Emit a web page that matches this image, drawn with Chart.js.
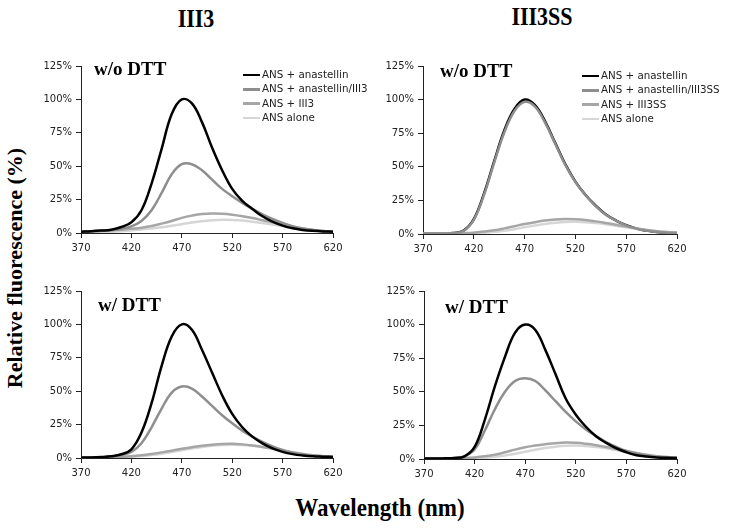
<!DOCTYPE html>
<html>
<head>
<meta charset="utf-8">
<script src="https://cdn.jsdelivr.net/npm/chart.js@4.4.0/dist/chart.umd.min.js"></script>
<style>
  body { margin: 0; background: #fff; }
  #page { position: relative; width: 730px; height: 528px; overflow: hidden; background: #fff; }
  canvas { position: absolute; }
  .big { position: absolute; font-family: "Liberation Serif", serif; font-weight: bold; font-size: 25px; color: #000; white-space: nowrap; line-height: 25px; }
  .side { position: absolute; font-family: "Liberation Serif", serif; font-weight: bold; font-size: 22px; color: #000; white-space: nowrap; line-height: 22px; }
  .tag { position: absolute; font-family: "Liberation Serif", serif; font-weight: bold; font-size: 19px; color: #000; white-space: nowrap; line-height: 19px; }
  .legend { position: absolute; font-family: "DejaVu Sans", Verdana, sans-serif; font-size: 10.3px; color: #222; white-space: nowrap; }
  .legend div { height: 14.3px; line-height: 14.3px; }
  .legend span.swatch { display: inline-block; width: 17px; height: 2.5px; vertical-align: middle; margin-right: 2px; }
</style>
</head>
<body>
<div id="page">
  <canvas id="c1"></canvas>
  <canvas id="c2"></canvas>
  <canvas id="c3"></canvas>
  <canvas id="c4"></canvas>

  <div class="big" style="left:196px; top:6px; transform:translateX(-50%) scaleX(0.88);">III3</div>
  <div class="big" style="left:542px; top:4px; transform:translateX(-50%) scaleX(0.88);">III3SS</div>
  <div class="big" style="left:380px; top:495px; transform:translateX(-50%) scaleX(0.92);">Wavelength (nm)</div>
  <div class="side" style="left:15px; top:268px; transform:translate(-50%,-50%) rotate(-90deg);">Relative fluorescence (%)</div>

  <div class="tag" style="left:94px; top:59px;">w/o DTT</div>
  <div class="tag" style="left:440px; top:61px;">w/o DTT</div>
  <div class="tag" style="left:98px; top:295px;">w/ DTT</div>
  <div class="tag" style="left:445px; top:297px;">w/ DTT</div>

  <div class="legend" id="leg1" style="left:243px; top:67px;"></div>
  <div class="legend" id="leg2" style="left:582px; top:68px;"></div>
</div>

<script>
// wavelength (nm) sampled every 10 nm
const wavelengths = [370, 380, 390, 400, 410, 420, 430, 440, 450, 460, 470, 480, 490,
                     500, 510, 520, 530, 540, 550, 560, 570, 580, 590, 600, 610, 620];
const yTicks = [0, 25, 50, 75, 100, 125];
const xTicks = [370, 420, 470, 520, 570, 620];

const labelsIII3 = ['ANS + anastellin', 'ANS + anastellin/III3', 'ANS + III3', 'ANS alone'];
const labelsIII3SS = ['ANS + anastellin', 'ANS + anastellin/III3SS', 'ANS + III3SS', 'ANS alone'];
const lineColors = ['#000000', '#8e8e8e', '#a6a6a6', '#d6d6d6'];

// III3, w/o DTT
const iii3NoDttAnastellin = [1, 1.3, 1.8, 2.5, 4.5, 8, 17, 37, 63, 89, 100, 97, 83, 64, 47, 33, 24, 18, 12.5, 8.5, 5.5, 3.5, 2.3, 1.6, 1.2, 1];
const iii3NoDttMix = [1, 1.2, 1.6, 2.2, 3.2, 5, 9, 17, 30, 44, 51.5, 51.5, 47, 40, 33, 27.5, 22.5, 18, 14, 10.5, 7.5, 5, 3.3, 2.2, 1.5, 1];
const iii3NoDttProtein = [1, 1.2, 1.5, 2, 2.5, 3.2, 4, 5.2, 7, 9, 11.3, 13, 14.2, 14.6, 14.4, 13.7, 12.6, 11.2, 9.6, 8, 6.3, 4.7, 3.3, 2.2, 1.5, 1.1];
const iii3NoDttAlone = [0.5, 0.6, 0.8, 1, 1.4, 2, 2.6, 3.4, 4.3, 5.4, 6.6, 7.8, 8.8, 9.5, 9.9, 9.8, 9.3, 8.5, 7.5, 6.4, 5.2, 4, 3, 2.1, 1.5, 1.1];

// III3SS, w/o DTT
const iii3ssNoDttAnastellin = [0.3, 0.3, 0.4, 0.7, 2.5, 11, 30, 54, 77, 93, 100, 96, 84, 68, 52, 39, 29, 21, 14.5, 10, 6.5, 4, 2.5, 1.5, 1, 0.7];
const iii3ssNoDttMix = [0.3, 0.3, 0.4, 0.7, 2.4, 10.5, 29, 53, 75.5, 91.5, 98.3, 95, 83, 67.3, 51.5, 38.7, 28.8, 20.8, 14.4, 9.9, 6.4, 4, 2.5, 1.5, 1, 0.7];
const iii3ssNoDttProtein = [0.3, 0.3, 0.4, 0.5, 0.7, 1, 1.8, 2.8, 4.2, 5.8, 7.4, 8.8, 10, 10.8, 11.2, 11, 10.4, 9.4, 8.2, 6.9, 5.5, 4.2, 3, 2.1, 1.4, 1];
const iii3ssNoDttAlone = [0.2, 0.2, 0.3, 0.4, 0.5, 0.7, 1, 1.6, 2.5, 3.6, 5, 6.3, 7.5, 8.4, 9, 9.1, 8.8, 8.1, 7.2, 6.1, 5, 3.9, 2.9, 2, 1.4, 1];

// III3, w/ DTT
const iii3DttAnastellin = [0.3, 0.4, 0.7, 1.3, 2.8, 6.5, 19, 41, 69, 91, 100, 96, 81, 64, 47, 33, 23, 16, 11, 7.2, 4.6, 2.9, 1.9, 1.3, 1, 0.7];
const iii3DttMix = [0.3, 0.4, 0.6, 1.1, 2.2, 4.5, 11, 23, 37, 49, 53.5, 52, 46, 39, 32, 26, 20.5, 16, 12, 8.7, 6, 4, 2.6, 1.7, 1.2, 0.9];
const iii3DttProtein = [0.2, 0.3, 0.4, 0.6, 0.9, 1.3, 2, 3, 4.2, 5.5, 6.9, 8.1, 9.2, 10, 10.5, 10.6, 10.2, 9.4, 8.3, 7, 5.6, 4.2, 3, 2, 1.4, 1];
const iii3DttAlone = [0.2, 0.2, 0.3, 0.4, 0.6, 0.9, 1.4, 2.2, 3.2, 4.4, 5.8, 7.1, 8.3, 9.2, 9.8, 10, 9.8, 9.2, 8.2, 7, 5.7, 4.3, 3.1, 2.1, 1.4, 1];

// III3SS, w/ DTT
const iii3ssDttAnastellin = [0.3, 0.3, 0.5, 0.8, 2, 9, 29, 54, 76, 94, 100, 96, 81, 63, 45, 33, 24, 17, 12, 8, 5, 2.8, 1.8, 1.2, 0.9, 0.8];
const iii3ssDttMix = [0.3, 0.3, 0.5, 0.8, 2, 7, 21, 37, 50, 58, 60, 58, 51, 43, 35, 28, 22, 17, 12.5, 9, 6, 4, 2.6, 1.6, 1.1, 0.8];
const iii3ssDttProtein = [0.3, 0.3, 0.4, 0.6, 0.8, 1.2, 2, 3.2, 5, 7, 8.7, 10, 11, 11.8, 12.2, 12, 11.3, 10.3, 9, 7.5, 6, 4.5, 3.1, 2.1, 1.4, 1];
const iii3ssDttAlone = [0.2, 0.2, 0.3, 0.4, 0.5, 0.7, 1, 1.6, 2.6, 3.9, 5.4, 6.9, 8.2, 9.2, 9.8, 10, 9.6, 8.9, 7.9, 6.6, 5.3, 4, 2.9, 2, 1.4, 1];

const tickFont = { family: '"DejaVu Sans", Verdana, sans-serif', size: 10 };

// plot area (left, top, right, bottom) of each panel in page pixels
function makePanel(id, area, series, labels, blackBelow) {
    const padTop = 10, padRight = 14, yAxisW = 50, xAxisH = 24;
    const canvas = document.getElementById(id);
    const w = Math.round(area[2] - area[0] + yAxisW + padRight);
    const h = Math.round(area[3] - area[1] + padTop + xAxisH);
    canvas.width = w;
    canvas.height = h;
    canvas.style.left = (area[0] - yAxisW) + 'px';
    canvas.style.top = (area[1] - padTop) + 'px';

    const datasets = series.map((vals, i) => ({
        label: labels[i],
        data: wavelengths.map((x, j) => ({ x: x, y: vals[j] })),
        borderColor: lineColors[i],
        borderWidth: 2.5,
        pointRadius: 0,
        fill: false,
        tension: 0.4,
        order: (blackBelow && i === 0) ? 5 : i,
    }));

    return new Chart(canvas, {
        type: 'line',
        data: { datasets: datasets },
        options: {
            responsive: false,
            animation: false,
            devicePixelRatio: 1,
            layout: { padding: { top: padTop, right: padRight, left: 0, bottom: 0 } },
            plugins: { legend: { display: false }, tooltip: { enabled: false } },
            scales: {
                x: {
                    type: 'linear',
                    min: 370,
                    max: 620,
                    afterFit: (s) => { s.height = xAxisH; },
                    afterBuildTicks: (s) => { s.ticks = xTicks.map(v => ({ value: v })); },
                    grid: { drawOnChartArea: false, drawTicks: true, tickLength: 5, color: '#222' },
                    border: { display: true, color: '#222', width: 1 },
                    ticks: { font: tickFont, color: '#222', padding: 4, maxRotation: 0 },
                },
                y: {
                    min: 0,
                    max: 125,
                    afterFit: (s) => { s.width = yAxisW; },
                    afterBuildTicks: (s) => { s.ticks = yTicks.map(v => ({ value: v })); },
                    grid: { drawOnChartArea: false, drawTicks: true, tickLength: 5, color: '#222' },
                    border: { display: true, color: '#222', width: 1 },
                    ticks: { font: tickFont, color: '#222', padding: 4, callback: (v) => v + '%' },
                },
            },
        },
    });
}

makePanel('c1', [81, 65.5, 333, 232.5],
    [iii3NoDttAnastellin, iii3NoDttMix, iii3NoDttProtein, iii3NoDttAlone], labelsIII3, false);
makePanel('c2', [423, 65.5, 677, 233],
    [iii3ssNoDttAnastellin, iii3ssNoDttMix, iii3ssNoDttProtein, iii3ssNoDttAlone], labelsIII3SS, true);
makePanel('c3', [81, 290.5, 333, 457.5],
    [iii3DttAnastellin, iii3DttMix, iii3DttProtein, iii3DttAlone], labelsIII3, false);
makePanel('c4', [424, 290.5, 677, 458],
    [iii3ssDttAnastellin, iii3ssDttMix, iii3ssDttProtein, iii3ssDttAlone], labelsIII3SS, false);

// legends (top panels only)
function buildLegend(id, labels) {
    const box = document.getElementById(id);
    labels.forEach((txt, i) => {
        const row = document.createElement('div');
        const sw = document.createElement('span');
        sw.className = 'swatch';
        sw.style.background = lineColors[i];
        row.appendChild(sw);
        row.appendChild(document.createTextNode(txt));
        box.appendChild(row);
    });
}
buildLegend('leg1', labelsIII3);
buildLegend('leg2', labelsIII3SS);
</script>
</body>
</html>
